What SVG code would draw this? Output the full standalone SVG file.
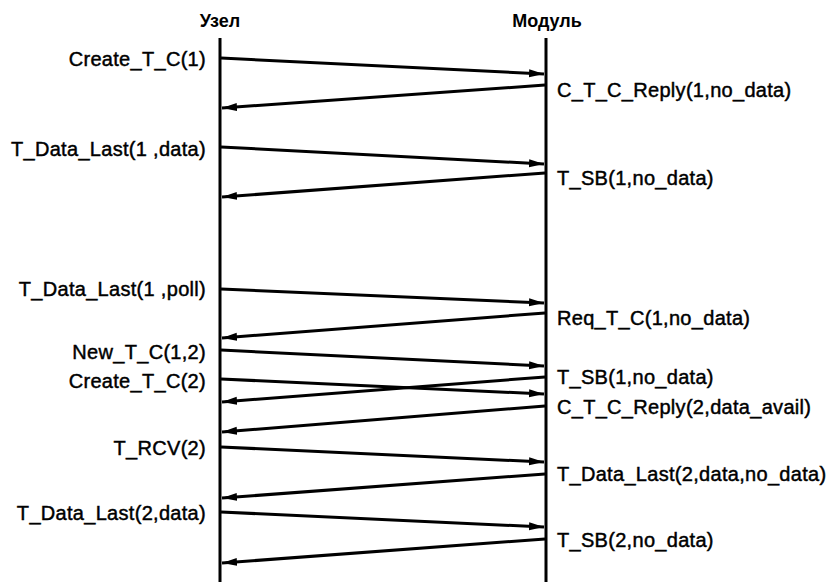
<svg xmlns="http://www.w3.org/2000/svg" width="830" height="582" viewBox="0 0 830 582">
<style>
.lbl{font-family:"Liberation Sans",Arial,sans-serif;font-size:20px;fill:#000;stroke:#000;stroke-width:0.45px;letter-spacing:0.3px}
.l{text-anchor:end}
.ttl{font-family:"Liberation Sans",Arial,sans-serif;font-size:18px;font-weight:bold;fill:#000;text-anchor:middle}
.life{stroke:#000;stroke-width:3}
.msg{stroke:#000;stroke-width:3;fill:none;marker-end:url(#ah)}
</style>
<defs>
<marker id="ah" markerUnits="userSpaceOnUse" markerWidth="16" markerHeight="10" refX="15" refY="4" orient="auto">
<path d="M0,0 L15,4 L0,8 z" fill="#000"/>
</marker>
</defs>
<rect width="830" height="582" fill="#fff"/>
<g id="node-uzel">
<text class="ttl" x="220" y="27">Узел</text>
<line class="life" x1="220" y1="38" x2="220" y2="582"/>
</g>
<g id="node-modul">
<text class="ttl" x="547" y="27">Модуль</text>
<line class="life" x1="546" y1="38" x2="546" y2="582"/>
</g>
<g id="connectors">
<line class="msg" x1="221" y1="58" x2="544" y2="74"/>
<line class="msg" x1="545" y1="85" x2="222" y2="108"/>
<line class="msg" x1="221" y1="147" x2="544" y2="164"/>
<line class="msg" x1="545" y1="173" x2="222" y2="197"/>
<line class="msg" x1="221" y1="289" x2="544" y2="303"/>
<line class="msg" x1="545" y1="313" x2="222" y2="338"/>
<line class="msg" x1="221" y1="350" x2="544" y2="366"/>
<line class="msg" x1="545" y1="377" x2="222" y2="402"/>
<line class="msg" x1="221" y1="379" x2="544" y2="394"/>
<line class="msg" x1="545" y1="406" x2="222" y2="432"/>
<line class="msg" x1="221" y1="447" x2="544" y2="462"/>
<line class="msg" x1="545" y1="474" x2="222" y2="498"/>
<line class="msg" x1="221" y1="512" x2="544" y2="527"/>
<line class="msg" x1="545" y1="539" x2="222" y2="563"/>
</g>
<g id="labels">
<text class="lbl l" x="206" y="66">Create_T_C(1)</text>
<text class="lbl" x="557" y="97">C_T_C_Reply(1,no_data)</text>
<text class="lbl l" x="206" y="156">T_Data_Last(1 ,data)</text>
<text class="lbl" x="557" y="185">T_SB(1,no_data)</text>
<text class="lbl l" x="206" y="296">T_Data_Last(1 ,poll)</text>
<text class="lbl" x="557" y="325">Req_T_C(1,no_data)</text>
<text class="lbl l" x="206" y="359">New_T_C(1,2)</text>
<text class="lbl" x="557" y="384">T_SB(1,no_data)</text>
<text class="lbl l" x="206" y="388">Create_T_C(2)</text>
<text class="lbl" x="557" y="414">C_T_C_Reply(2,data_avail)</text>
<text class="lbl l" x="206" y="455">T_RCV(2)</text>
<text class="lbl" x="557" y="481">T_Data_Last(2,data,no_data)</text>
<text class="lbl l" x="206" y="520">T_Data_Last(2,data)</text>
<text class="lbl" x="557" y="547">T_SB(2,no_data)</text>
</g>
</svg>
